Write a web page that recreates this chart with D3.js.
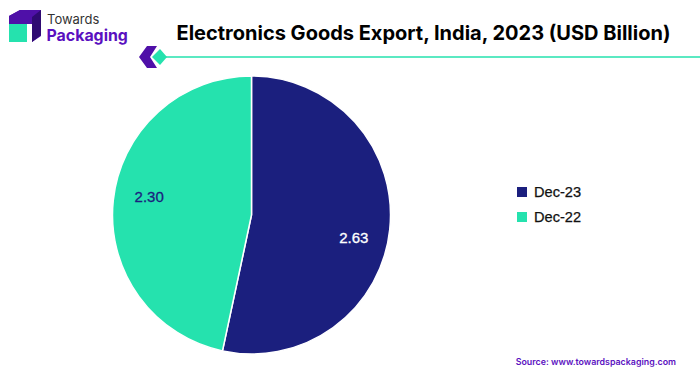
<!DOCTYPE html>
<html>
<head>
<meta charset="utf-8">
<script src="https://cdn.jsdelivr.net/npm/d3@7"></script>
<style>
  html, body { margin: 0; padding: 0; background: #fff; }
  svg { display: block; }
  text { font-family: "Liberation Sans", Arial, sans-serif; }
</style>
</head>
<body>
<div id="chart"></div>
<script>
var categories = ["Dec-23", "Dec-22"];
var values = [2.63, 2.30];
var valueLabels = ["2.63", "2.30"];
var colors = ["#1b1f7e", "#25e2ae"];
var labelColors = ["#ffffff", "#1b1f7e"];

var width = 700,
  height = 376,
  cx = 251.5,
  cy = 215,
  radius = 139;

// labels don't sit quite on the slice's mid angle
var labelNudge = [12.2, -7.2];

var svg = d3.select("#chart").append("svg")
  .attr("width", width)
  .attr("height", height);

// Logo
var logo = svg.append("g");
logo.append("path").attr("d", "M9 16 L20 10 L41 10 L32 16 Z").attr("fill", "#4f10a8");
logo.append("path").attr("d", "M9 16 L9 24 L32 24 L32 42 L41 36 L41 10 L20 10 Z").attr("fill", "#4f10a8");
logo.append("path").attr("d", "M32 17 L41 10 L41 35 L32 42 Z").attr("fill", "#2f0a72");
logo.append("rect").attr("x", 9).attr("y", 24).attr("width", 18).attr("height", 18).attr("fill", "#25e2ae");
logo.append("text").attr("x", 47).attr("y", 24)
  .style("font-family", "Inter, sans-serif")
  .attr("font-size", 13).attr("fill", "#333333").text("Towards");
logo.append("text").attr("x", 46.5).attr("y", 41)
  .style("font-family", "Inter, sans-serif")
  .attr("font-size", 15.9).attr("font-weight", 700).attr("fill", "#5a10c0").text("Packaging");

// Title
svg.append("text")
  .attr("x", 423.5).attr("y", 39.5)
  .attr("text-anchor", "middle")
  .style("font-family", "Inter, sans-serif")
  .attr("font-size", 20).attr("font-weight", 700).attr("fill", "#000")
  .text("Electronics Goods Export, India, 2023 (USD Billion)");

// Title rule
svg.append("line")
  .attr("x1", 160).attr("x2", 700).attr("y1", 57).attr("y2", 57)
  .attr("stroke", "#25e2ae").attr("stroke-width", 1.5);
svg.append("path").attr("d", "M139 57 L147 46 L157 46 L150 57 L157 68 L147 68 Z").attr("fill", "#4f10a8");
svg.append("path").attr("d", "M152 57 L160 49 L167 57 L160 65 Z").attr("fill", "#25e2ae");

// Pie
var pie = d3.pie().sort(null).value(function(d) { return d; });
var arc = d3.arc().innerRadius(0).outerRadius(radius);
var g = svg.append("g").attr("transform", "translate(" + cx + "," + cy + ")");

var slices = g.selectAll(".slice").data(pie(values)).enter().append("g").attr("class", "slice");
slices.append("path")
  .attr("d", arc)
  .attr("fill", function(d, i) { return colors[i]; })
  .attr("stroke", "#ffffff")
  .attr("stroke-width", 1.5);

var labelArc = d3.arc().innerRadius(radius * 0.74).outerRadius(radius * 0.74);
slices.append("text")
  .attr("transform", function(d, i) {
    var c = labelArc.centroid(d);
    return "translate(" + c[0] + "," + (c[1] + labelNudge[i]) + ")";
  })
  .attr("text-anchor", "middle")
  .attr("dy", "0.35em")
  .attr("font-size", 15)
  .attr("stroke-width", 0.3)
  .attr("fill", function(d, i) { return labelColors[i]; })
  .attr("stroke", function(d, i) { return labelColors[i]; })
  .text(function(d, i) { return valueLabels[i]; });

// Legend
var legend = svg.selectAll(".legend").data(categories).enter().append("g")
  .attr("class", "legend")
  .attr("transform", function(d, i) { return "translate(517," + (187 + i * 25) + ")"; });
legend.append("rect")
  .attr("width", 10).attr("height", 10)
  .attr("fill", function(d, i) { return colors[i]; });
legend.append("text")
  .attr("x", 17).attr("y", 10)
  .attr("font-size", 14.6)
  .attr("stroke", "#111").attr("stroke-width", 0.25)
  .attr("fill", "#111")
  .text(function(d) { return d; });

// Source
svg.append("text")
  .attr("x", 676).attr("y", 365)
  .attr("text-anchor", "end")
  .style("font-family", "Inter, sans-serif")
  .attr("font-size", 8.85).attr("font-weight", 600).attr("fill", "#5a10c0")
  .text("Source: www.towardspackaging.com");
</script>
</body>
</html>
